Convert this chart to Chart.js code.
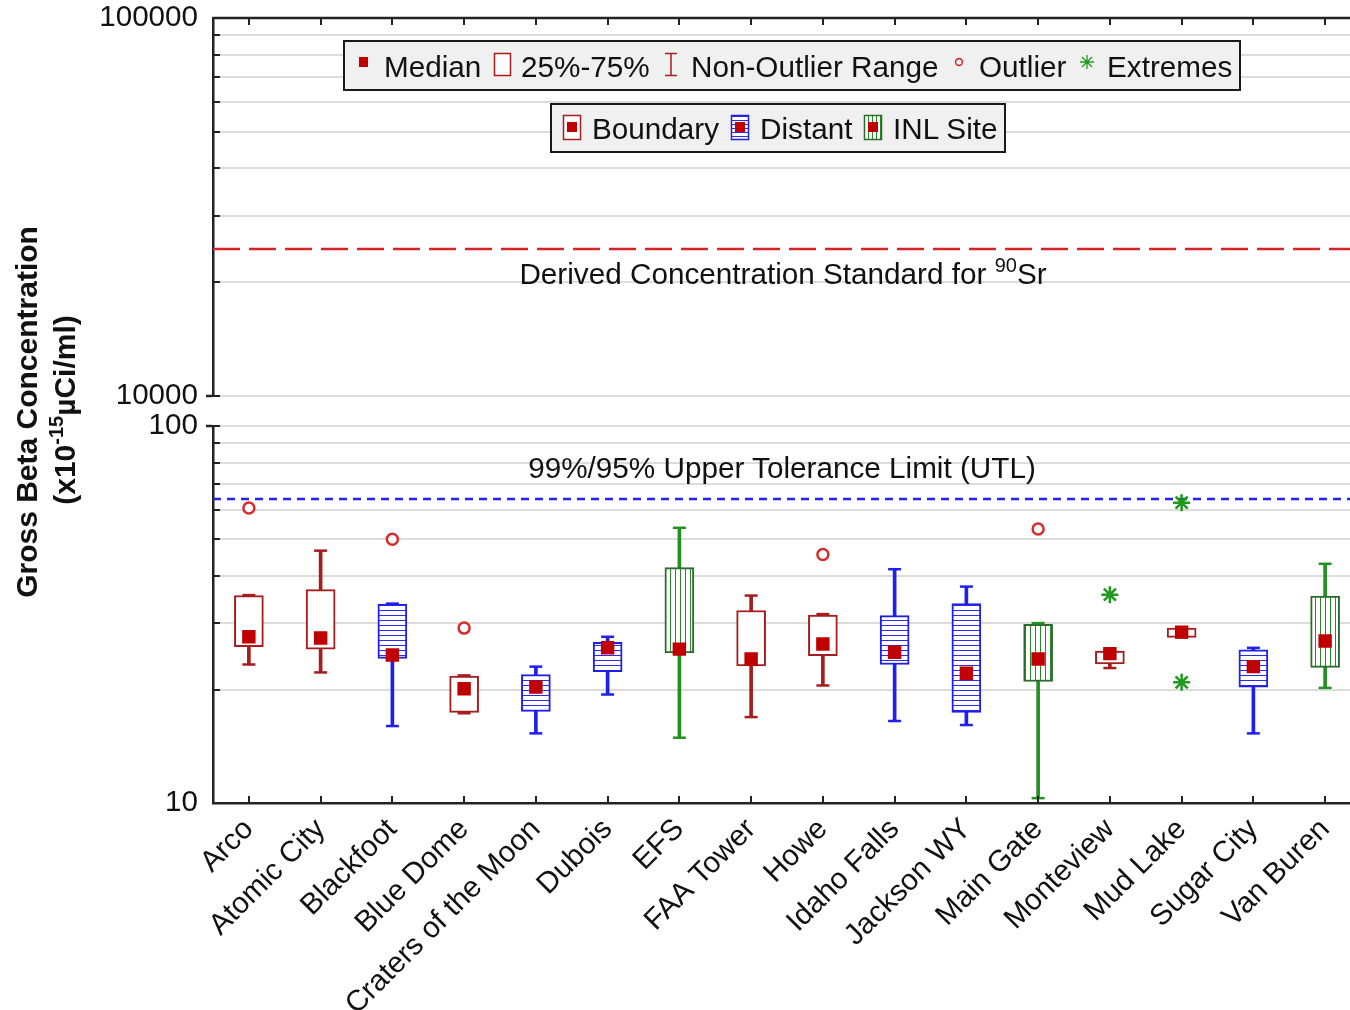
<!DOCTYPE html>
<html>
<head>
<meta charset="utf-8">
<title>Gross Beta Concentration</title>
<script src="https://cdn.jsdelivr.net/npm/chart.js@4.4.1/dist/chart.umd.min.js"></script>
<style>
  html, body { margin: 0; padding: 0; background: #fff; }
  #page { position: relative; width: 1350px; height: 1010px; overflow: hidden; font-family: "Liberation Sans", Arial, sans-serif; color: #111; }
  #chart { position: absolute; left: 0; top: 0; }
  .legend { position: absolute; background: #f0f0f0; border: 2px solid #1a1a1a; box-sizing: border-box; }
  #symbols { position: absolute; left: 0; top: 0; }
  .txt { position: absolute; font-size: 29.7px; line-height: 29px; white-space: nowrap; }
  .mid { transform: translateX(-50%); }
  .ytitle { position: absolute; font-size: 30px; line-height: 30px; font-weight: bold; white-space: nowrap; transform: translate(-50%, -50%) rotate(-90deg); }
  .up { font-size: 20px; position: relative; top: -12px; }
</style>
</head>
<body>
<div id="page">
  <canvas id="chart" width="1372" height="1010"></canvas>

  <div class="legend" style="left:343px;top:40px;width:898px;height:51px"></div>
  <div class="legend" style="left:550px;top:103px;width:456px;height:50px"></div>

  <svg id="symbols" width="1350" height="1010">
    <defs>
      <pattern id="hz" width="4" height="4" patternUnits="userSpaceOnUse"><rect width="4" height="4" fill="#fff"/><rect width="4" height="1" fill="#2b2bf2"/></pattern>
      <pattern id="vt" width="4" height="4" patternUnits="userSpaceOnUse"><rect width="4" height="4" fill="#fff"/><rect width="1" height="4" fill="#2a8a2a"/></pattern>
    </defs>
    <rect x="359" y="57" width="9" height="10" fill="#c00000"/>
    <rect x="494.5" y="53.5" width="16" height="22" fill="#fff" stroke="#a51d1d" stroke-width="1.5"/>
    <path d="M665 53.5 H677 M671 53.5 V75.5 M665 75.5 H677" stroke="#a51d1d" stroke-width="1.5" fill="none"/>
    <circle cx="959" cy="62" r="3.4" fill="#fff" stroke="#d82b2b" stroke-width="1.6"/>
    <path d="M1087 55 V69 M1080 62 H1094 M1082 57 L1092 67 M1082 67 L1092 57" stroke="#1f9a1f" stroke-width="1.3"/>

    <rect x="563.5" y="115.5" width="17" height="24" fill="#fff" stroke="#a51d1d" stroke-width="1.5"/>
    <rect x="567" y="122" width="10" height="10" fill="#c00000"/>
    <rect x="731.5" y="115.5" width="17" height="24" fill="url(#hz)" stroke="#1f1fe6" stroke-width="1.5"/>
    <rect x="735" y="122" width="10" height="10" fill="#c00000"/>
    <rect x="864.5" y="115.5" width="17" height="24" fill="url(#vt)" stroke="#2b6b2b" stroke-width="1.5"/>
    <rect x="868" y="122" width="10" height="10" fill="#c00000"/>
  </svg>

  <span class="txt" style="left:384px;top:52px">Median</span>
  <span class="txt" style="left:521px;top:52px">25%-75%</span>
  <span class="txt" style="left:691px;top:52px">Non-Outlier Range</span>
  <span class="txt" style="left:979px;top:52px">Outlier</span>
  <span class="txt" style="left:1107px;top:52px">Extremes</span>

  <span class="txt" style="left:592px;top:114px">Boundary</span>
  <span class="txt" style="left:760px;top:114px">Distant</span>
  <span class="txt" style="left:893px;top:114px">INL Site</span>

  <span class="txt mid" style="left:783px;top:259px">Derived Concentration Standard for <span class="up">90</span>Sr</span>
  <span class="txt mid" style="left:782px;top:453px">99%/95% Upper Tolerance Limit (UTL)</span>

  <div class="ytitle" style="left:27px;top:412px">Gross Beta Concentration</div>
  <div class="ytitle" style="left:66px;top:410px">(x10<span class="up">-15</span>µCi/ml)</div>
</div>

<script>
// Sites, with their group: B = Boundary, D = Distant, I = INL Site
var categories = ['Arco', 'Atomic City', 'Blackfoot', 'Blue Dome', 'Craters of the Moon', 'Dubois', 'EFS', 'FAA Tower', 'Howe', 'Idaho Falls', 'Jackson WY', 'Main Gate', 'Monteview', 'Mud Lake', 'Sugar City', 'Van Buren'];
var groups = ['B', 'B', 'D', 'B', 'D', 'D', 'I', 'B', 'B', 'D', 'D', 'I', 'B', 'B', 'D', 'I'];

// box plot values (x10^-15 uCi/ml)
var whiskerLow  = [23.3, 22.2, 16.0, 17.3, 15.3, 19.4, 14.9, 16.9, 20.5, 16.5, 16.1, 10.3, 22.8, 27.5, 15.3, 20.2];
var q1          = [26.0, 25.6, 24.2, 17.4, 17.5, 22.3, 25.0, 23.1, 24.6, 23.3, 17.4, 21.0, 23.4, 27.5, 20.3, 22.9];
var medians     = [27.6, 27.4, 24.7, 20.1, 20.3, 25.8, 25.6, 24.1, 26.4, 25.1, 22.1, 24.1, 24.9, 28.4, 23.0, 26.9];
var q3          = [35.5, 36.8, 33.7, 21.7, 21.9, 26.7, 42.1, 32.4, 31.5, 31.4, 33.8, 29.8, 25.3, 29.1, 25.5, 35.4];
var whiskerHigh = [35.6, 46.7, 33.8, 21.8, 23.0, 27.6, 53.7, 35.5, 31.7, 41.7, 37.5, 30.0, 25.3, 29.1, 25.8, 43.1];
var outliers    = [60.6, null, 50.1, 29.1, null, null, null, null, 45.6, null, null, 53.3, null, null, null, null];
var extremeSites  = ['Monteview', 'Mud Lake', 'Mud Lake'];
var extremeValues = [35.7, 62.6, 20.9];

// reference levels
var utlLimit = 64;
var dcsSr90 = 24500;

// axis ticks (grid lines) and the ones that carry a label
var lowGrid = [10, 20, 30, 40, 50, 60, 70, 80, 90, 100];
var highGrid = [10000, 20000, 30000, 40000, 50000, 60000, 70000, 80000, 90000, 100000];
var lowLabels = [10, 100];
var highLabels = [10000, 100000];
var outerTicks = [100, 10000];

Chart.defaults.font.family = '"Liberation Sans", Arial, sans-serif';

function hatch(color, vertical) {
    var tile = document.createElement('canvas');
    tile.width = vertical ? 5 : 6;
    tile.height = vertical ? 6 : 5;
    var c = tile.getContext('2d');
    c.fillStyle = '#ffffff';
    c.fillRect(0, 0, tile.width, tile.height);
    c.fillStyle = color;
    if (vertical) c.fillRect(0, 0, 1, tile.height);
    else c.fillRect(0, 0, tile.width, 1);
    return c.createPattern(tile, 'repeat');
}

var fills = { B: '#ffffff', D: hatch('#2b2bf2', false), I: hatch('#2a8a2a', true) };
var edges = { B: '#a51d1d', D: '#1f1fe6', I: '#2b6b2b' };
var whiskerColors = { B: '#a51d1d', D: '#1f1fee', I: '#229122' };

function byGroup(table) {
    return function (ctx) { return table[groups[ctx.dataIndex]]; };
}

// inward tick marks + top frame line
var innerTicks = {
    id: 'innerTicks',
    afterDraw: function (chart) {
        var ctx = chart.ctx, area = chart.chartArea;
        ctx.save();
        ctx.strokeStyle = '#222';
        ctx.lineWidth = 2;
        ctx.beginPath();
        ['yTop', 'yBot'].forEach(function (id) {
            var s = chart.scales[id];
            s.ticks.forEach(function (t) {
                var y = Math.round(s.getPixelForValue(t.value));
                ctx.moveTo(area.left, y);
                ctx.lineTo(area.left + 7, y);
            });
        });
        var x = chart.scales.x;
        categories.forEach(function (c, i) {
            var px = Math.round(x.getPixelForValue(i));
            ctx.moveTo(px, area.bottom);
            ctx.lineTo(px, area.bottom - 7);
            ctx.moveTo(px, area.top);
            ctx.lineTo(px, area.top + 7);
        });
        ctx.stroke();
        ctx.lineWidth = 2.5;
        ctx.beginPath();
        ctx.moveTo(area.left, area.top);
        ctx.lineTo(area.right, area.top);
        ctx.stroke();
        ctx.restore();
    }
};

function logAxis(weight, stackWeight, min, max, grid, labels) {
    return {
        type: 'logarithmic',
        position: 'left',
        stack: 'y',
        stackWeight: stackWeight,
        weight: weight,
        min: min,
        max: max,
        afterBuildTicks: function (s) {
            s.ticks = grid.map(function (v) { return { value: v, major: labels.indexOf(v) >= 0 }; });
        },
        afterFit: function (s) {
            s.width = 213;
            s.paddingTop = 0;
            s.paddingBottom = 0;
        },
        ticks: {
            autoSkip: false,
            padding: 8,
            color: '#111',
            font: { size: 29.6 },
            callback: function (v) { return labels.indexOf(v) >= 0 ? String(v) : ''; }
        },
        grid: {
            color: '#dcdcdc',
            lineWidth: 2,
            drawTicks: true,
            tickLength: 7,
            tickWidth: 2.5,
            tickColor: function (c) {
                return c.tick && outerTicks.indexOf(c.tick.value) >= 0 ? '#222' : 'rgba(0,0,0,0)';
            }
        },
        border: { display: true, color: '#222', width: 2.5 }
    };
}

var pointBase = { type: 'line', xAxisID: 'x', yAxisID: 'yBot', showLine: false };

new Chart(document.getElementById('chart'), {
    type: 'bar',
    data: {
        labels: categories,
        datasets: [
            {
                type: 'line', label: 'DCS 90Sr', xAxisID: 'xLin', yAxisID: 'yTop', order: 9,
                data: [{ x: -0.5, y: dcsSr90 }, { x: 15.5, y: dcsSr90 }],
                borderColor: '#d42626', borderWidth: 2.5, borderDash: [27, 9], pointRadius: 0
            },
            {
                type: 'line', label: 'UTL', xAxisID: 'xLin', yAxisID: 'yBot', order: 9,
                data: [{ x: -0.5, y: utlLimit }, { x: 15.5, y: utlLimit }],
                borderColor: '#2222ee', borderWidth: 2.5, borderDash: [8, 6], pointRadius: 0
            },
            {
                type: 'bar', label: 'Non-Outlier Range', xAxisID: 'x', yAxisID: 'yBot', order: 8,
                data: categories.map(function (c, i) { return [whiskerLow[i], whiskerHigh[i]]; }),
                backgroundColor: byGroup(whiskerColors), borderWidth: 0,
                barThickness: 3, grouped: false
            },
            {
                type: 'bar', label: '25%-75%', xAxisID: 'x', yAxisID: 'yBot', order: 6,
                data: categories.map(function (c, i) { return [q1[i], q3[i]]; }),
                backgroundColor: byGroup(fills), borderColor: byGroup(edges),
                borderWidth: 2, borderSkipped: false, barThickness: 29, grouped: false
            },
            Object.assign({}, pointBase, {
                label: 'cap high', order: 5, data: whiskerHigh,
                pointStyle: 'line', pointRadius: 6.5, pointBorderWidth: 2.5,
                pointBorderColor: byGroup(whiskerColors)
            }),
            Object.assign({}, pointBase, {
                label: 'cap low', order: 5, data: whiskerLow,
                pointStyle: 'line', pointRadius: 6.5, pointBorderWidth: 2.5,
                pointBorderColor: byGroup(whiskerColors)
            }),
            Object.assign({}, pointBase, {
                label: 'Outlier', order: 3, data: outliers,
                pointStyle: 'circle', pointRadius: 5.5, pointBorderWidth: 2.5,
                pointBorderColor: '#d82b2b', pointBackgroundColor: '#ffffff'
            }),
            Object.assign({}, pointBase, {
                label: 'Extremes', order: 2,
                data: extremeSites.map(function (s, i) { return { x: s, y: extremeValues[i] }; }),
                pointStyle: 'star', pointRadius: 8.5, pointBorderWidth: 2.5,
                pointBorderColor: '#1f9a1f'
            }),
            Object.assign({}, pointBase, {
                label: 'Median', order: 1, data: medians,
                pointStyle: 'rect', pointRadius: 9.5, pointBorderWidth: 0,
                pointBackgroundColor: '#c00000'
            })
        ]
    },
    options: {
        responsive: false,
        animation: false,
        events: [],
        layout: { padding: { top: 18, right: 2, bottom: 0, left: 0 } },
        plugins: { legend: { display: false }, tooltip: { enabled: false } },
        scales: {
            x: {
                type: 'category',
                position: 'bottom',
                offset: true,
                grid: { display: false },
                border: { display: true, color: '#222', width: 2.5 },
                ticks: { autoSkip: false, minRotation: 45, maxRotation: 45, padding: 1, color: '#111', font: { size: 29.6 } },
                afterFit: function (s) {
                    s.height = 207;
                    s.paddingLeft = 0;
                    s.paddingRight = 0;
                }
            },
            xLin: { type: 'linear', display: false, offset: false, min: -0.5, max: 15.5 },
            yTop: logAxis(2, 378, 10000, 100000, highGrid, highLabels),
            yGap: {
                type: 'linear', position: 'left', stack: 'y', stackWeight: 30, weight: 1,
                min: 0, max: 1,
                grid: { display: false }, ticks: { display: false }, border: { display: false },
                afterFit: function (s) { s.width = 213; s.paddingTop = 0; s.paddingBottom = 0; }
            },
            yBot: logAxis(0, 377, 10, 100, lowGrid, lowLabels)
        }
    },
    plugins: [innerTicks]
});
</script>
</body>
</html>
